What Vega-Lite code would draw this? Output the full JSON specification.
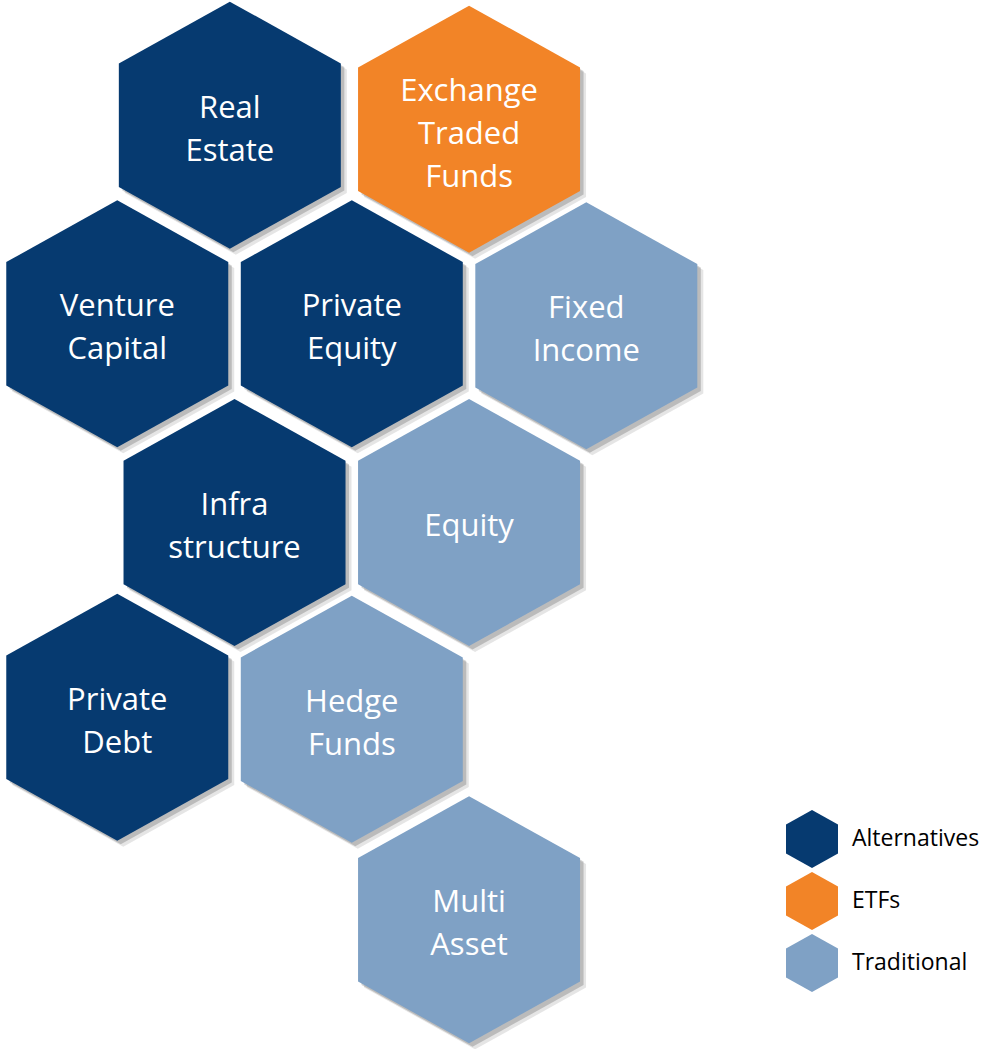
{
  "$schema": "https://vega.github.io/schema/vega-lite/v6.json",
  "width": 985,
  "height": 1049,
  "padding": 0,
  "autosize": {"type": "fit", "contains": "padding"},
  "background": "#ffffff",
  "config": {"view": {"stroke": null}},
  "data": {
    "values": [
      {"label": "Real\nEstate", "group": "Alternatives", "col": 0.96, "row": 0},
      {"label": "Exchange\nTraded\nFunds", "group": "ETFs", "col": 3, "row": 0.02},
      {"label": "Venture\nCapital", "group": "Alternatives", "col": 0, "row": 1},
      {"label": "Private\nEquity", "group": "Alternatives", "col": 2, "row": 1},
      {"label": "Fixed\nIncome", "group": "Traditional", "col": 4, "row": 1.01},
      {"label": "Infra\nstructure", "group": "Alternatives", "col": 1, "row": 2},
      {"label": "Equity", "group": "Traditional", "col": 3, "row": 2},
      {"label": "Private\nDebt", "group": "Alternatives", "col": 0, "row": 2.98},
      {"label": "Hedge\nFunds", "group": "Traditional", "col": 2, "row": 2.99},
      {"label": "Multi\nAsset", "group": "Traditional", "col": 3, "row": 4}
    ]
  },
  "encoding": {
    "x": {"field": "col", "type": "quantitative", "scale": {"domain": [-1, 7.4], "nice": false, "zero": false}, "axis": null},
    "y": {"field": "row", "type": "quantitative", "scale": {"domain": [-0.63, 4.63], "nice": false, "zero": false, "reverse": true}, "axis": null}
  },
  "layer": [
    {
      "mark": {"type": "point", "shape": "M0,-1.1126L1,-0.5563L1,0.5563L0,1.1126L-1,0.5563L-1,-0.5563Z", "size": 49284, "filled": true, "fill": "#000000", "opacity": 0.1, "strokeWidth": 0, "xOffset": 6, "yOffset": 6}
    },
    {
      "mark": {"type": "point", "shape": "M0,-1.1126L1,-0.5563L1,0.5563L0,1.1126L-1,0.5563L-1,-0.5563Z", "size": 49284, "filled": true, "fill": "#000000", "opacity": 0.18, "strokeWidth": 0, "xOffset": 3.5, "yOffset": 3.5}
    },
    {
      "mark": {"type": "point", "shape": "M0,-1.1126L1,-0.5563L1,0.5563L0,1.1126L-1,0.5563L-1,-0.5563Z", "size": 49284, "filled": true, "opacity": 1, "strokeWidth": 0},
      "encoding": {
        "color": {
          "field": "group", "type": "nominal",
          "scale": {"domain": ["Alternatives", "ETFs", "Traditional"], "range": ["#063a70", "#f28427", "#7fa1c5"]},
          "legend": {
            "title": null,
            "orient": "none",
            "legendX": 786,
            "legendY": 813,
            "symbolType": "M0,-1.1126L1,-0.5563L1,0.5563L0,1.1126L-1,0.5563L-1,-0.5563Z",
            "symbolSize": 2704,
            "symbolOpacity": 1,
            "symbolStrokeWidth": 0,
            "labelFont": "Open Sans",
            "labelFontSize": 23,
            "labelColor": "#000000",
            "labelOffset": 14,
            "labelExpr": "datum.label === 'Alternatives' ? datum.label : '\u00a0' + datum.label",
            "rowPadding": 4,
            "padding": 0
          }
        }
      }
    },
    {
      "mark": {"type": "text", "font": "Open Sans", "fontSize": 31, "color": "#ffffff", "align": "center", "baseline": "middle", "lineBreak": "\n", "lineHeight": 43, "dy": {"expr": "4.5 - 21 * (length(split(datum.label, '\\n')) - 1)"}},
      "encoding": {"text": {"field": "label", "type": "nominal"}}
    }
  ]
}
